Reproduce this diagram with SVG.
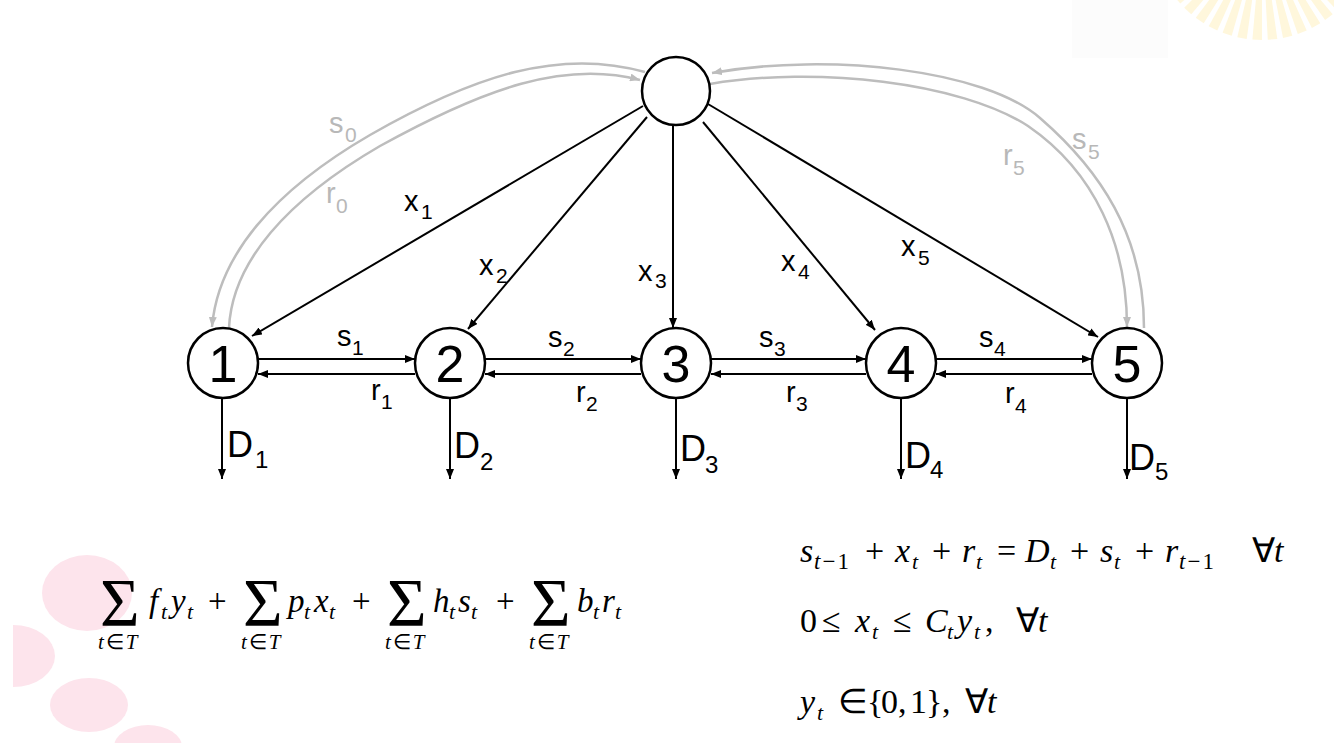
<svg xmlns="http://www.w3.org/2000/svg" width="1334" height="743" viewBox="0 0 1334 743">
<defs>
<style>
.nd{fill:#fff;stroke:#000;stroke-width:2.5}
.num{font-family:"Liberation Sans",Arial,sans-serif;font-size:52px;text-anchor:middle;fill:#000}
.e{fill:none;stroke:#000;stroke-width:2}
.g{fill:none;stroke:#bdbdbd;stroke-width:2.5}
.lbl{font-family:"Liberation Sans",Arial,sans-serif;font-size:29px;fill:#000}
.gl{fill:#b8b8b8}
.sub{font-size:21px}
.dl{font-family:"Liberation Sans",Arial,sans-serif;font-size:36px;fill:#000}
.dsub{font-size:24px}
.m{font-family:"Liberation Serif","Times New Roman",serif;fill:#000}
.i{font-style:italic}
.sg{font-size:68px}
.st{font-size:21px}
.s{font-size:22px;font-style:italic}
.pink{fill:#fde4ec}
.ray{fill:#fff7dc}
</style>
<marker id="ah" viewBox="0 0 10 8" refX="10" refY="4" markerWidth="10" markerHeight="8" markerUnits="userSpaceOnUse" orient="auto"><path d="M0,0 L10,4 L0,8 Z" fill="#000"/></marker>
<marker id="ahg" viewBox="0 0 10 8" refX="10" refY="4" markerWidth="10" markerHeight="8" markerUnits="userSpaceOnUse" orient="auto"><path d="M0,0 L10,4 L0,8 Z" fill="#bdbdbd"/></marker>
</defs>
<rect width="1334" height="743" fill="#fff"/>
<g id="decor">
<rect x="1072" y="0" width="96" height="58" fill="#fcfcfc"/>
<g class="ray">
<polygon points="1262,-70 1343.7,3.6 1337,10.5"/>
<polygon points="1262,-70 1332.7,14.3 1325.1,20.1"/>
<polygon points="1262,-70 1320.3,23.3 1311.9,28"/>
<polygon points="1262,-70 1306.7,30.5 1297.8,34"/>
<polygon points="1262,-70 1292.3,35.7 1283,38"/>
<polygon points="1262,-70 1277.3,38.9 1267.8,39.8"/>
<polygon points="1262,-70 1262,40 1252.4,39.6"/>
<polygon points="1262,-70 1246.7,38.9 1237.3,37.2"/>
<polygon points="1262,-70 1231.7,35.7 1222.6,32.7"/>
<polygon points="1262,-70 1217.3,30.5 1208.7,26.2"/>
<polygon points="1262,-70 1203.7,23.3 1195.8,17.8"/>
<polygon points="1262,-70 1191.3,14.3 1184.2,7.8"/>
<polygon points="1262,-70 1180.3,3.6 1174.2,-3.8"/>
</g>
<ellipse class="pink" cx="87" cy="593" rx="45" ry="38"/>
<path class="pink" d="M13,625 A42,31 0 0 1 13,687 Z"/>
<ellipse class="pink" cx="89" cy="705" rx="39" ry="27"/>
<ellipse class="pink" cx="148" cy="747" rx="34" ry="22"/>
</g>
<g id="connectors">
<path class="g" d="M645,72 C560,48 475,75 370,135 C275,190 218,255 212,327" marker-end="url(#ahg)"/>
<path class="g" d="M229,328 C232,262 287,200 380,146 C485,88 565,60 640,80" marker-end="url(#ahg)"/>
<path class="g" d="M1144,328 C1144,235 1100,170 1040,118 C985,70 830,52 712,73" marker-end="url(#ahg)"/>
<path class="g" d="M710,84 C815,66 960,82 1028,126 C1095,172 1127,245 1127,327" marker-end="url(#ahg)"/>
<line class="e" x1="643" y1="106" x2="252" y2="336" marker-end="url(#ah)"/>
<line class="e" x1="647" y1="117" x2="468" y2="329" marker-end="url(#ah)"/>
<line class="e" x1="673" y1="125" x2="673" y2="328" marker-end="url(#ah)"/>
<line class="e" x1="703" y1="122" x2="875" y2="330" marker-end="url(#ah)"/>
<line class="e" x1="708" y1="104" x2="1098" y2="337" marker-end="url(#ah)"/>
<line class="e" x1="258" y1="359" x2="415" y2="359" marker-end="url(#ah)"/>
<line class="e" x1="415" y1="374" x2="258" y2="374" marker-end="url(#ah)"/>
<line class="e" x1="485" y1="359" x2="641" y2="359" marker-end="url(#ah)"/>
<line class="e" x1="641" y1="374" x2="485" y2="374" marker-end="url(#ah)"/>
<line class="e" x1="711" y1="359" x2="866" y2="359" marker-end="url(#ah)"/>
<line class="e" x1="866" y1="374" x2="711" y2="374" marker-end="url(#ah)"/>
<line class="e" x1="936" y1="359" x2="1092" y2="359" marker-end="url(#ah)"/>
<line class="e" x1="1092" y1="374" x2="936" y2="374" marker-end="url(#ah)"/>
<line class="e" x1="222" y1="398" x2="222" y2="479" marker-end="url(#ah)"/>
<line class="e" x1="450" y1="398" x2="450" y2="479" marker-end="url(#ah)"/>
<line class="e" x1="676" y1="398" x2="676" y2="479" marker-end="url(#ah)"/>
<line class="e" x1="901" y1="398" x2="901" y2="479" marker-end="url(#ah)"/>
<line class="e" x1="1127" y1="398" x2="1127" y2="479" marker-end="url(#ah)"/>
</g>
<g id="labels">
<text class="lbl gl" x="329" y="133">s<tspan class="sub" x="345" y="142">0</tspan></text>
<text class="lbl gl" x="326" y="203">r<tspan class="sub" x="336" y="213">0</tspan></text>
<text class="lbl gl" x="1003" y="165">r<tspan class="sub" x="1013" y="175">5</tspan></text>
<text class="lbl gl" x="1072" y="149">s<tspan class="sub" x="1088" y="159">5</tspan></text>
<text class="lbl" x="404" y="211">x<tspan class="sub" x="421" y="219">1</tspan></text>
<text class="lbl" x="479" y="275">x<tspan class="sub" x="496" y="283">2</tspan></text>
<text class="lbl" x="638" y="281">x<tspan class="sub" x="655" y="288">3</tspan></text>
<text class="lbl" x="781" y="271">x<tspan class="sub" x="798" y="279">4</tspan></text>
<text class="lbl" x="901" y="256">x<tspan class="sub" x="918" y="265">5</tspan></text>
<text class="lbl" x="337" y="346">s<tspan class="sub" x="352" y="355">1</tspan></text>
<text class="lbl" x="371" y="400">r<tspan class="sub" x="381" y="409">1</tspan></text>
<text class="lbl" x="548" y="347">s<tspan class="sub" x="563" y="356">2</tspan></text>
<text class="lbl" x="576" y="402">r<tspan class="sub" x="586" y="411">2</tspan></text>
<text class="lbl" x="759" y="347">s<tspan class="sub" x="774" y="356">3</tspan></text>
<text class="lbl" x="786" y="402">r<tspan class="sub" x="796" y="411">3</tspan></text>
<text class="lbl" x="979" y="347">s<tspan class="sub" x="994" y="356">4</tspan></text>
<text class="lbl" x="1005" y="403">r<tspan class="sub" x="1015" y="413">4</tspan></text>
<text class="dl" x="227" y="457">D<tspan class="dsub" x="255" y="468">1</tspan></text>
<text class="dl" x="454" y="458">D<tspan class="dsub" x="480" y="470">2</tspan></text>
<text class="dl" x="680" y="461">D<tspan class="dsub" x="705" y="473">3</tspan></text>
<text class="dl" x="905" y="468">D<tspan class="dsub" x="930" y="478">4</tspan></text>
<text class="dl" x="1129" y="470">D<tspan class="dsub" x="1155" y="480">5</tspan></text>
</g>
<g id="node-top"><circle class="nd" cx="676" cy="91" r="34"/></g>
<g id="node-1"><circle class="nd" cx="223" cy="363" r="35"/><text class="num" x="223" y="382">1</text></g>
<g id="node-2"><circle class="nd" cx="450" cy="363" r="35"/><text class="num" x="450" y="382">2</text></g>
<g id="node-3"><circle class="nd" cx="676" cy="363" r="35"/><text class="num" x="676" y="382">3</text></g>
<g id="node-4"><circle class="nd" cx="901" cy="363" r="35"/><text class="num" x="901" y="382">4</text></g>
<g id="node-5"><circle class="nd" cx="1127" cy="363" r="35"/><text class="num" x="1127" y="382">5</text></g>
<g id="objective" class="m" font-size="33">
<text class="sg" x="100" y="625">Σ</text>
<text class="st" x="98" y="649"><tspan class="i">t</tspan><tspan dx="2">∈</tspan><tspan class="i" dx="2">T</tspan></text>
<text x="149" y="612"><tspan class="i">f</tspan><tspan class="s" x="161" y="619">t</tspan><tspan class="i" x="171" y="612">y</tspan><tspan class="s" x="187" y="619">t</tspan></text>
<text x="208" y="612">+</text>
<text class="sg" x="243" y="625">Σ</text>
<text class="st" x="241" y="649"><tspan class="i">t</tspan><tspan dx="2">∈</tspan><tspan class="i" dx="2">T</tspan></text>
<text x="288" y="612"><tspan class="i">p</tspan><tspan class="s" x="304" y="619">t</tspan><tspan class="i" x="314" y="612">x</tspan><tspan class="s" x="329" y="619">t</tspan></text>
<text x="352" y="612">+</text>
<text class="sg" x="387" y="625">Σ</text>
<text class="st" x="385" y="649"><tspan class="i">t</tspan><tspan dx="2">∈</tspan><tspan class="i" dx="2">T</tspan></text>
<text x="433" y="612"><tspan class="i">h</tspan><tspan class="s" x="449" y="619">t</tspan><tspan class="i" x="458" y="612">s</tspan><tspan class="s" x="471" y="619">t</tspan></text>
<text x="496" y="612">+</text>
<text class="sg" x="531" y="625">Σ</text>
<text class="st" x="529" y="649"><tspan class="i">t</tspan><tspan dx="2">∈</tspan><tspan class="i" dx="2">T</tspan></text>
<text x="577" y="612"><tspan class="i">b</tspan><tspan class="s" x="593" y="619">t</tspan><tspan class="i" x="602" y="612">r</tspan><tspan class="s" x="615" y="619">t</tspan></text>
</g>
<g id="constraints" class="m" font-size="34">
<text y="562"><tspan class="i" x="800">s</tspan><tspan font-size="23" x="814" y="569"><tspan class="i">t</tspan><tspan dx="2">−</tspan><tspan dx="2">1</tspan></tspan><tspan x="865" y="562">+</tspan><tspan class="i" x="895">x</tspan><tspan class="s" x="912" y="569">t</tspan><tspan x="932" y="562">+</tspan><tspan class="i" x="962">r</tspan><tspan class="s" x="976" y="569">t</tspan><tspan x="997" y="562">=</tspan><tspan class="i" x="1025">D</tspan><tspan class="s" x="1050" y="569">t</tspan><tspan x="1070" y="562">+</tspan><tspan class="i" x="1100">s</tspan><tspan class="s" x="1114" y="569">t</tspan><tspan x="1135" y="562">+</tspan><tspan class="i" x="1165">r</tspan><tspan font-size="23" x="1179" y="569"><tspan class="i">t</tspan><tspan dx="2">−</tspan><tspan dx="2">1</tspan></tspan><tspan x="1252" y="562">∀</tspan><tspan class="i" x="1274" y="562">t</tspan></text>
<text y="632"><tspan x="800">0</tspan><tspan x="822">≤</tspan><tspan class="i" x="855">x</tspan><tspan class="s" x="872" y="639">t</tspan><tspan x="893" y="632">≤</tspan><tspan class="i" x="925">C</tspan><tspan class="s" x="947" y="639">t</tspan><tspan class="i" x="957" y="632">y</tspan><tspan class="s" x="974" y="639">t</tspan><tspan x="985" y="632">,</tspan><tspan x="1016">∀</tspan><tspan class="i" x="1038">t</tspan></text>
<text y="713"><tspan class="i" x="800">y</tspan><tspan class="s" x="817" y="720">t</tspan><tspan x="838" y="713">∈</tspan><tspan x="867">{</tspan><tspan x="881">0</tspan><tspan x="898">,</tspan><tspan x="910">1</tspan><tspan x="926">}</tspan><tspan x="942">,</tspan><tspan x="965">∀</tspan><tspan class="i" x="987">t</tspan></text>
</g>
</svg>
